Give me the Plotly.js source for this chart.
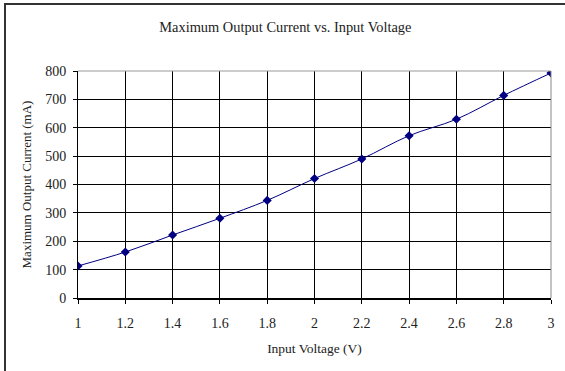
<!DOCTYPE html>
<html>
<head>
<meta charset="utf-8">
<script src="https://cdn.plot.ly/plotly-3.0.1.min.js"></script>
<style>
  html, body { margin: 0; padding: 0; background: #fff; }
  #wrap { position: relative; width: 565px; height: 371px; }
  #chart { position: absolute; left: 0; top: 0; width: 565px; height: 371px; }
  #frame {
    position: absolute; left: 4px; top: 3px; width: 561px; height: 368px;
    border-left: 2px solid #333; border-top: 2px solid #333;
    box-sizing: border-box; pointer-events: none;
  }
</style>
</head>
<body>
<div id="wrap">
  <div id="chart"></div>
  <div id="frame"></div>
</div>
<script>
// Input voltage (V) and the measured maximum output current (mA)
const voltage = [1.0, 1.2, 1.4, 1.6, 1.8, 2.0, 2.2, 2.4, 2.6, 2.8, 3.0];
const current = [113, 162, 222, 281, 344, 421, 490, 572, 630, 714, 793];

const xTicks = [1, 1.2, 1.4, 1.6, 1.8, 2, 2.2, 2.4, 2.6, 2.8, 3];
const xTickText = ['1', '1.2', '1.4', '1.6', '1.8', '2', '2.2', '2.4', '2.6', '2.8', '3'];
const yTicks = [0, 100, 200, 300, 400, 500, 600, 700, 800];

const serif = 'Liberation Serif, Times New Roman, serif';
const ink = '#222';

const trace = {
  x: voltage,
  y: current,
  type: 'scatter',
  mode: 'lines+markers',
  line: { color: '#000080', width: 1, shape: 'spline', smoothing: 1 },
  marker: { symbol: 'diamond', size: 7, color: '#000080' },
  hoverinfo: 'skip'
};

const layout = {
  width: 565,
  height: 371,
  margin: { l: 78, r: 14, t: 71, b: 73 },
  paper_bgcolor: '#fff',
  plot_bgcolor: '#fff',
  showlegend: false,
  font: { family: serif, color: ink, size: 13 },
  title: {
    text: 'Maximum Output Current vs. Input Voltage',
    font: { family: serif, size: 14.4, color: ink },
    x: 0.505, xref: 'container', xanchor: 'center',
    y: 1 - 27 / 371, yref: 'container', yanchor: 'middle'
  },
  xaxis: {
    range: [1, 3],
    tickvals: xTicks,
    ticktext: xTickText,
    ticks: 'outside', ticklen: 4, tickcolor: '#000', tickwidth: 1,
    ticklabelstandoff: 7,
    showgrid: true, gridcolor: '#000', gridwidth: 1,
    showline: true, linecolor: '#000', linewidth: 2, mirror: false,
    zeroline: false,
    tickfont: { family: serif, size: 14, color: ink },
    title: { text: 'Input Voltage (V)', font: { family: serif, size: 13.5, color: ink }, standoff: 14 },
    fixedrange: true
  },
  yaxis: {
    range: [0, 800],
    tickvals: yTicks,
    ticks: 'outside', ticklen: 4, tickcolor: '#000', tickwidth: 1,
    ticklabelstandoff: 4,
    showgrid: true, gridcolor: '#000', gridwidth: 1,
    showline: true, linecolor: '#000', linewidth: 1, mirror: false,
    zeroline: false,
    tickfont: { family: serif, size: 14, color: ink },
    title: { text: 'Maximum Output Current (mA)', font: { family: serif, size: 13, color: ink }, standoff: 10 },
    fixedrange: true
  },
  shapes: [
    // light right and top edges of the plot area
    { type: 'line', xref: 'paper', yref: 'paper', x0: 0, x1: 1, y0: 1, y1: 1, line: { color: '#999', width: 1 } },
    { type: 'line', xref: 'paper', yref: 'paper', x0: 1, x1: 1, y0: 0, y1: 1, line: { color: '#888', width: 1 } }
  ]
};

Plotly.newPlot('chart', [trace], layout, { staticPlot: true, displayModeBar: false });
</script>
</body>
</html>
